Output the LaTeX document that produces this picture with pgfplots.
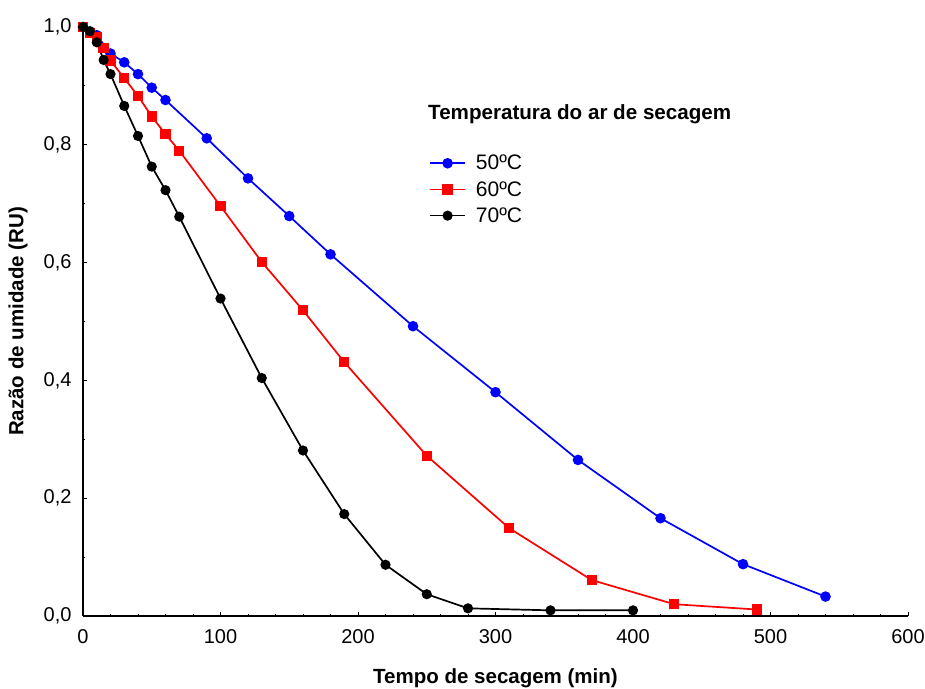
\documentclass[border=0pt]{standalone}
\usepackage{fontspec}
\setmainfont{Liberation Sans}
\usepackage{pgfplots}
\pgfplotsset{compat=1.18}
\begin{document}
\begin{tikzpicture}
\begin{axis}[
  width=825pt, height=589pt, scale only axis,
  xmin=0, xmax=600, ymin=0, ymax=1,
  clip=false,
  axis lines*=left,
  axis line style={line width=1.3pt},
  tick align=inside,
  xtick={0,100,200,300,400,500,600}, minor x tick num=4,
  ytick={0,0.2,0.4,0.6,0.8,1.0}, minor y tick num=1,
  major tick length=4pt, minor tick length=2.5pt,
  tick style={line width=1pt, black},
  /pgf/number format/assume math mode=true,
  ticklabel style={font=\fontsize{20}{24}\selectfont},
  yticklabel style={/pgf/number format/.cd, fixed, fixed zerofill, precision=1, use comma, /tikz/.cd, xshift=-8pt},
  xticklabel style={yshift=-10pt},
  xlabel={Tempo de secagem (min)},
  ylabel={Razão de umidade (RU)},
  label style={font=\bfseries\fontsize{20.5}{24}\selectfont},
  xlabel style={at={(axis description cs:0.5,-0.1154)}, anchor=base},
  ylabel style={at={(axis description cs:-0.0788,0.5)}, anchor=center},
  legend style={draw=none, fill=none, at={(axis cs:249.5,0.7895)}, anchor=north west,
    font=\fontsize{21}{25}\selectfont, row sep=6pt, column sep=8pt},
  legend cell align=left,
  legend image code/.code={\draw[mark repeat=2,mark phase=2,#1] plot coordinates {(0pt,0pt) (17.5pt,0pt) (35pt,0pt)};},
]
\addplot[blue, line width=1.7pt, mark=*, mark size=4.4pt] coordinates {
(0,1.0) (10,0.986) (20,0.955) (30,0.94) (40,0.92) (50,0.897) (60,0.876) (90,0.811) (120,0.743) (150,0.679) (180,0.614) (240,0.492) (300,0.38) (360,0.265) (420,0.166) (480,0.088) (540,0.033)};
\addlegendentry{50ºC}
\addplot[red, line width=1.7pt, mark=square*, mark size=4.3pt] coordinates {
(0,1.0) (5,0.99) (10,0.982) (15,0.964) (20,0.943) (30,0.913) (40,0.883) (50,0.848) (60,0.818) (70,0.79) (100,0.696) (130,0.601) (160,0.519) (190,0.431) (250,0.272) (310,0.149) (370,0.061) (430,0.020) (490,0.011)};
\addlegendentry{60ºC}
\addplot[black, line width=1.7pt, mark=*, mark size=4.2pt] coordinates {
(0,1.0) (5,0.993) (10,0.974) (15,0.944) (20,0.92) (30,0.866) (40,0.815) (50,0.763) (60,0.723) (70,0.678) (100,0.539) (130,0.404) (160,0.281) (190,0.173) (220,0.087) (250,0.037) (280,0.013) (340,0.0096) (400,0.0096)};
\addlegendentry{70ºC}
\node[anchor=base west, font=\bfseries\fontsize{20.6}{24}\selectfont, inner sep=0pt] at (axis cs:250.9,0.843) {Temperatura do ar de secagem};
\coordinate (bbSW) at (rel axis cs:0,0);
\coordinate (bbNE) at (rel axis cs:1,1);
\end{axis}
\pgfresetboundingbox
\path ([shift={(-83pt,-72pt)}]bbSW) rectangle ([shift={(17pt,27pt)}]bbNE);
\end{tikzpicture}
\end{document}
